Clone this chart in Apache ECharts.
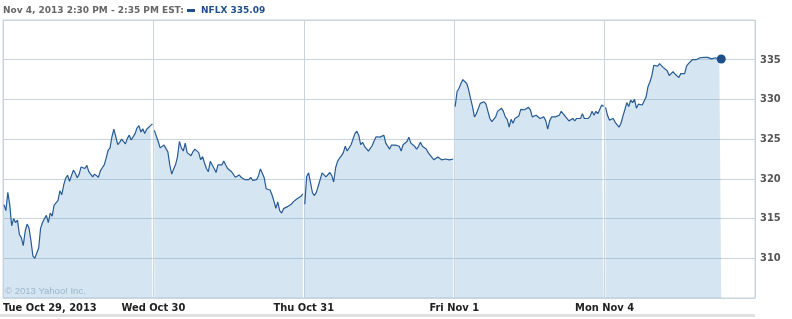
<!DOCTYPE html>
<html>
<head>
<meta charset="utf-8">
<script src="https://cdn.jsdelivr.net/npm/echarts@6/dist/echarts.min.js"></script>
<style>
  html, body { margin: 0; padding: 0; background: #fff; }
  #chart { width: 792px; height: 319px; }
</style>
</head>
<body>
<div id="chart"></div>
<script>
// ---- Data (5-minute bars, one array per trading day) ----
const dayLabels = ['Tue Oct 29, 2013', 'Wed Oct 30', 'Thu Oct 31', 'Fri Nov 1', 'Mon Nov 4'];

const tue = [316.75, 316.0, 318.3, 316.75, 314.1, 315.0, 314.5, 314.8, 313.0, 312.6,
  311.6, 313.4, 314.3, 313.8, 312.2, 310.3, 310.0, 309.75, 311.3, 313.8,
  314.5, 315.0, 315.4, 314.5, 315.7, 315.3, 316.7, 316.5, 317.25, 318.5,
  318.0, 319.25, 320.1, 320.45, 319.7, 319.8, 321.1, 320.7, 320.15, 320.6,
  321.5, 321.6, 321.3, 321.7, 320.9, 320.7, 320.25, 320.6, 320.7, 320.2,
  321.0, 321.4, 321.75, 322.6, 323.6, 323.9, 325.3, 326.25, 325.3, 324.3,
  324.6, 325.0, 324.8, 324.4, 325.1, 325.5, 324.9, 325.0, 325.7, 326.4,
  326.7, 325.9, 326.3, 325.7, 326.25, 326.2, 326.7, 326.9];

const wed = [326.1, 326.1, 324.7, 323.9, 323.7, 324.25, 324.25, 323.4, 321.75, 320.6,
  321.25, 321.8, 322.8, 324.7, 323.9, 323.5, 324.5, 323.3, 323.4, 322.9,
  323.4, 323.75, 324.0, 323.3, 322.4, 322.8, 322.0, 321.3, 320.9, 322.2,
  321.75, 321.3, 320.8, 321.75, 322.0, 321.75, 322.25, 321.75, 321.3, 321.1,
  320.9, 320.8, 320.2, 320.4, 320.5, 320.2, 320.1, 319.9, 319.75, 319.9,
  320.2, 319.8, 319.9, 319.9, 320.4, 321.25, 320.7, 320.1, 318.75, 318.6,
  318.6, 318.0, 317.2, 316.3, 317.1, 316.0, 315.7, 316.25, 316.25, 316.5,
  316.75, 316.8, 317.1, 317.0, 317.5, 317.75, 317.8, 318.1];

const thu = [316.8, 320.3, 320.75, 319.5, 318.25, 317.9, 318.3, 319.1, 319.3, 320.75,
  320.8, 320.25, 320.4, 320.8, 320.4, 319.6, 321.4, 322.2, 322.6, 322.9,
  323.3, 324.1, 323.5, 323.6, 324.3, 324.4, 325.7, 326.0, 325.5, 324.3,
  324.6, 324.1, 323.9, 323.5, 323.75, 324.2, 324.8, 325.3, 325.4, 325.25,
  325.0, 325.5, 324.5, 324.6, 323.75, 324.25, 324.4, 324.25, 324.4, 324.1,
  323.5, 324.3, 324.5, 324.7, 325.25, 324.5, 324.4, 324.1, 323.75, 324.1,
  324.6, 324.1, 323.9, 323.75, 323.3, 323.0, 322.8, 322.4, 322.4, 322.75,
  322.6, 322.4, 322.6, 322.5, 322.75, 322.4, 322.6, 322.5];

const fri = [329.1, 331.0, 331.4, 332.0, 332.5, 332.6, 332.0, 331.2, 330.1, 329.1,
  327.8, 328.2, 328.1, 329.5, 329.6, 329.7, 329.4, 328.5, 327.6, 327.2,
  327.1, 327.8, 328.5, 328.75, 328.9, 328.5, 327.8, 327.5, 326.5, 327.5,
  327.0, 327.6, 327.4, 327.9, 328.75, 328.9, 328.7, 328.6, 329.0, 328.7,
  327.8, 328.0, 328.0, 327.9, 327.6, 327.8, 327.8, 327.3, 326.25, 327.3,
  327.8, 327.6, 327.8, 327.6, 328.0, 328.5, 328.25, 327.9, 327.8, 327.3,
  327.4, 327.6, 327.3, 327.6, 327.4, 327.6, 328.2, 327.6, 327.8, 327.6,
  327.9, 328.5, 328.0, 328.5, 328.2, 328.75, 329.3, 329.1];

const mon = [329.0, 328.0, 327.4, 327.3, 327.6, 327.1, 326.9, 326.5, 327.0, 327.9,
  328.7, 329.6, 329.1, 329.9, 329.6, 330.0, 328.9, 329.4, 329.3, 329.3,
  329.5, 330.3, 331.6, 332.2, 333.0, 334.3, 334.4, 334.2, 334.5, 334.3,
  334.0, 333.9, 333.6, 333.0, 333.25, 333.5, 333.2, 333.0, 332.75, 333.25,
  333.0, 333.25, 334.2, 334.5, 334.6, 335.0, 335.1, 335.0, 335.1, 335.25,
  335.4, 335.3, 335.5, 335.3, 335.4, 335.1, 335.3, 335.25, 335.0, 335.0,
  335.09];

const days = [tue, wed, thu, fri, mon];
const BARS_PER_DAY = 78;

const headerText = 'Nov 4, 2013 2:30 PM - 2:35 PM EST:';
const symbolText = 'NFLX 335.09';
const copyrightText = '\u00A9 2013 Yahoo! Inc.';

// ---- Build series ----
const lineColor = '#275b94';
const series = days.map((vals, d) => {
  const data = vals.map((v, i) => [d * BARS_PER_DAY + i + 0.5, v]);
  if (d === days.length - 1) {
    const last = data.length - 1;
    data[last] = { value: data[last], symbol: 'circle', symbolSize: 9,
      itemStyle: { color: '#1c4f8a', borderWidth: 0 } };
  }
  return {
    type: 'line',
    data: data,
    showSymbol: true,
    symbol: 'none',
    silent: true,
    lineStyle: { color: lineColor, width: 1.2 },
    itemStyle: { color: '#1c4f8a' },
    areaStyle: { color: 'rgba(88,150,200,0.25)', opacity: 1, origin: 'start' },
    emphasis: { disabled: true },
    animation: false
  };
});

const chart = echarts.init(document.getElementById('chart'), null, { renderer: 'canvas' });
chart.setOption({
  animation: false,
  grid: {
    left: 1, right: 37, top: 20, bottom: 21,
    show: true, borderColor: '#c9d4dd', borderWidth: 1, backgroundColor: 'transparent'
  },
  xAxis: {
    type: 'value',
    min: 0, max: BARS_PER_DAY * 5, interval: BARS_PER_DAY,
    axisLine: { show: true, lineStyle: { color: '#c9d4dd' } },
    axisTick: { show: false },
    splitLine: { show: true, lineStyle: { color: '#c9d4dd', width: 1 } },
    axisLabel: {
      formatter: v => dayLabels[Math.round(v / BARS_PER_DAY)] || '',
      fontFamily: 'DejaVu Sans Condensed, DejaVu Sans, sans-serif',
      fontWeight: 'bold', fontSize: 11, color: '#222',
      margin: 5, alignMinLabel: 'left', showMaxLabel: false
    }
  },
  yAxis: {
    type: 'value', position: 'right',
    min: 305, max: 340, interval: 5,
    axisLine: { show: true, lineStyle: { color: '#c9d4dd' } },
    axisTick: { show: false },
    splitLine: { show: true, lineStyle: { color: '#c9d4dd', width: 1 } },
    axisLabel: {
      showMinLabel: false, showMaxLabel: false,
      fontFamily: 'DejaVu Sans Condensed, DejaVu Sans, sans-serif',
      fontWeight: 'bold', fontSize: 11, color: '#555', margin: 5
    }
  },
  graphic: [
    { type: 'text', left: 3, top: 6,
      style: { text: headerText, fill: '#666', font: 'bold 9px "DejaVu Sans", sans-serif' } },
    { type: 'rect', left: 187, top: 9, shape: { width: 8, height: 3 }, style: { fill: '#1f4f8b' } },
    { type: 'text', left: 201, top: 6,
      style: { text: symbolText, fill: '#1f4f8b', font: 'bold 9px "DejaVu Sans", sans-serif' } },
    { type: 'text', left: 5, top: 286,
      style: { text: copyrightText, fill: '#b3c2cf', font: '9.5px "Liberation Sans", sans-serif' } },
    { type: 'rect', left: 0, top: 314, shape: { width: 755, height: 3 }, style: { fill: '#e0e0e0' } }
  ],
  series: series
});
</script>
</body>
</html>
